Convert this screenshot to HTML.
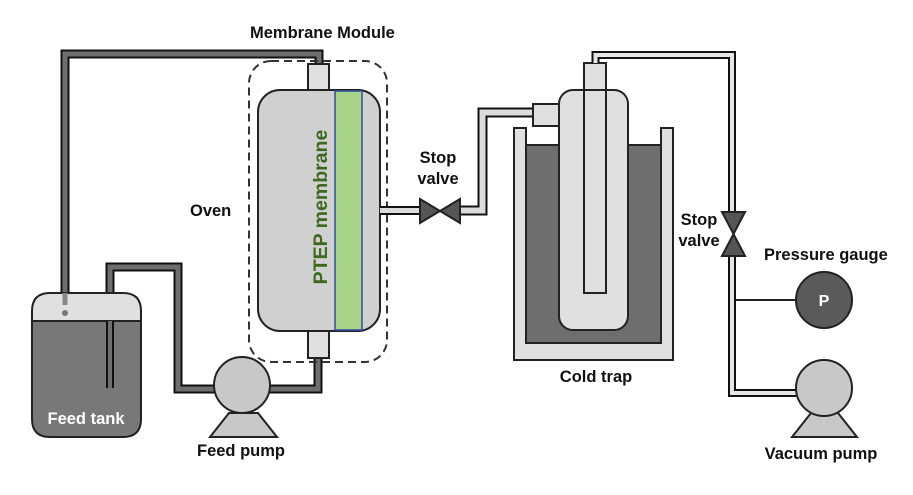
<!DOCTYPE html>
<html><head><meta charset="utf-8"><style>
html,body{margin:0;padding:0;background:#fff;}
svg{display:block;}
text{font-family:"Liberation Sans",Arial,sans-serif;font-weight:bold;}
</style></head><body>
<svg width="913" height="495" viewBox="0 0 913 495" xmlns="http://www.w3.org/2000/svg">
<g fill="none" stroke-linejoin="miter">
 <polyline points="65,305 65,54 319,54 319,63" stroke="#111" stroke-width="9"/>
 <polyline points="65,305 65,54 319,54 319,63" stroke="#6e6e6e" stroke-width="5"/>
 <polyline points="110,388 110,267 178,267 178,389 220,389" stroke="#111" stroke-width="9"/>
 <polyline points="110,388 110,267 178,267 178,389 220,389" stroke="#6e6e6e" stroke-width="5"/>
 <polyline points="265,389 318,389 318,358" stroke="#111" stroke-width="9"/>
 <polyline points="265,389 318,389 318,358" stroke="#6e6e6e" stroke-width="5"/>
</g>
<path d="M32,311 Q32,293 50,293 L123,293 Q141,293 141,311 L141,321 L32,321 Z" fill="#e0e0e0" stroke="#222" stroke-width="2"/>
<path d="M32,321 L141,321 L141,419 Q141,437 123,437 L50,437 Q32,437 32,419 Z" fill="#787878" stroke="#222" stroke-width="2"/>
<line x1="32" y1="321" x2="141" y2="321" stroke="#222" stroke-width="2"/>
<polyline points="110,321 110,388" stroke="#111" stroke-width="8" fill="none"/>
<polyline points="110,321 110,388" stroke="#6e6e6e" stroke-width="4" fill="none"/>
<polyline points="65,293 65,305" stroke="#888" stroke-width="5" fill="none"/>
<circle cx="65" cy="313" r="3" fill="#777"/>
<text x="86" y="424" font-size="16.5" fill="#fff" text-anchor="middle">Feed tank</text>
<polygon points="210,437 277,437 258,413 229,413" fill="#c8c8c8" stroke="#222" stroke-width="2"/>
<circle cx="242" cy="385" r="28" fill="#c8c8c8" stroke="#222" stroke-width="2"/>
<text x="241" y="456" font-size="16.5" fill="#111" text-anchor="middle">Feed pump</text>
<rect x="249" y="61" width="138" height="301" rx="22" fill="none" stroke="#333" stroke-width="2" stroke-dasharray="8,5"/>
<rect x="308" y="64" width="21" height="27" fill="#e0e0e0" stroke="#222" stroke-width="2"/>
<rect x="308" y="331" width="21" height="27" fill="#e0e0e0" stroke="#222" stroke-width="2"/>
<rect x="258" y="90" width="122" height="241" rx="22" fill="#d0d0d0" stroke="#222" stroke-width="2"/>
<rect x="335" y="91" width="27" height="239" fill="#a8d48a" stroke="#2f4fa0" stroke-width="1.5"/>
<text transform="translate(327,207) rotate(-90)" font-size="19.5" fill="#3c6a1e" text-anchor="middle">PTEP membrane</text>
<text x="250" y="38" font-size="16.5" fill="#111">Membrane Module</text>
<text x="190" y="216" font-size="16.5" fill="#111">Oven</text>
<polyline points="380,210.5 420,210.5" stroke="#111" stroke-width="9" fill="none"/>
<polyline points="380,210.5 420,210.5" stroke="#dcdcdc" stroke-width="5" fill="none"/>
<polyline points="460,210.5 482.5,210.5 482.5,112.5 534,112.5" stroke="#111" stroke-width="10" fill="none"/>
<polyline points="460,210.5 482.5,210.5 482.5,112.5 534,112.5" stroke="#dcdcdc" stroke-width="6" fill="none"/>
<polygon points="420,199 440,211 420,223" fill="#555" stroke="#222" stroke-width="2"/>
<polygon points="460,199 440,211 460,223" fill="#555" stroke="#222" stroke-width="2"/>
<text x="438" y="163" font-size="16.5" fill="#111" text-anchor="middle">Stop</text>
<text x="438" y="184" font-size="16.5" fill="#111" text-anchor="middle">valve</text>
<path d="M514,128 L526,128 L526,343 L661,343 L661,128 L673,128 L673,360 L514,360 Z" fill="#e0e0e0" stroke="#222" stroke-width="2"/>
<rect x="526" y="145" width="135" height="198" fill="#6e6e6e" stroke="#222" stroke-width="2"/>
<rect x="533" y="104" width="26" height="22" fill="#e0e0e0" stroke="#222" stroke-width="2"/>
<rect x="559" y="90" width="69" height="240" rx="14" fill="#e0e0e0" stroke="#222" stroke-width="2"/>
<rect x="584" y="63" width="22" height="230" fill="#e0e0e0" stroke="#222" stroke-width="2"/>
<line x1="584" y1="90" x2="606" y2="90" stroke="#222" stroke-width="2"/>
<text x="596" y="382" font-size="16.5" fill="#111" text-anchor="middle">Cold trap</text>
<polyline points="595.5,63 595.5,55 732,55 732,212" stroke="#111" stroke-width="8" fill="none"/>
<polyline points="595.5,63 595.5,55 732,55 732,212" stroke="#e6e6e6" stroke-width="4" fill="none"/>
<polyline points="732,256 732,393 796,393" stroke="#111" stroke-width="8" fill="none"/>
<polyline points="732,256 732,393 796,393" stroke="#e6e6e6" stroke-width="4" fill="none"/>
<line x1="736" y1="300" x2="797" y2="300" stroke="#222" stroke-width="2"/>
<polygon points="722,212 745,212 733.5,234" fill="#555" stroke="#222" stroke-width="2"/>
<polygon points="722,256 745,256 733.5,234" fill="#555" stroke="#222" stroke-width="2"/>
<text x="699" y="225" font-size="16.5" fill="#111" text-anchor="middle">Stop</text>
<text x="699" y="246" font-size="16.5" fill="#111" text-anchor="middle">valve</text>
<circle cx="824" cy="300" r="28" fill="#5a5a5a" stroke="#222" stroke-width="2"/>
<text x="824" y="306" font-size="16" fill="#fff" text-anchor="middle">P</text>
<text x="764" y="260" font-size="16.5" fill="#111">Pressure gauge</text>
<polygon points="792,437 857,437 838,413 811,413" fill="#c8c8c8" stroke="#222" stroke-width="2"/>
<circle cx="824" cy="388" r="28" fill="#c8c8c8" stroke="#222" stroke-width="2"/>
<text x="821" y="459" font-size="16.5" fill="#111" text-anchor="middle">Vacuum pump</text>
</svg>
</body></html>
